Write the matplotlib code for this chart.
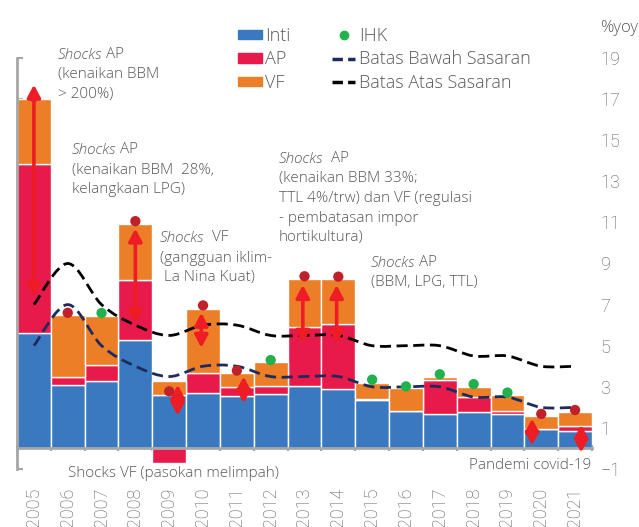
import numpy as np
import matplotlib.pyplot as plt
from matplotlib.path import Path
from matplotlib.patches import PathPatch, Patch
from matplotlib.lines import Line2D

# data
tahun = ["2005", "2006", "2007", "2008", "2009", "2010", "2011", "2012", "2013",
         "2014", "2015", "2016", "2017", "2018", "2019", "2020", "2021"]
inti = np.array([5.6, 3.1, 3.3, 5.3, 2.6, 2.7, 2.55, 2.65, 3.05, 2.9, 2.35, 1.8, 1.7, 1.75, 1.7, 0.93, 0.85])
ap = np.array([8.25, 0.4, 0.75, 2.9, -0.7, 0.95, 0.45, 0.4, 2.85, 3.15, 0.05, 0.02, 1.65, 0.75, 0.1, 0.02, 0.25])
vf = np.array([3.15, 3.0, 2.4, 2.7, 0.7, 3.15, 0.65, 1.15, 2.35, 2.2, 0.8, 1.1, 0.15, 0.5, 0.8, 0.65, 0.65])
ihk = np.array([17.11, 6.6, 6.59, 11.06, 2.78, 6.96, 3.79, 4.3, 8.38, 8.36, 3.35, 3.02, 3.61, 3.13, 2.72, 1.68, 1.87])
batas_bawah = np.array([5, 7, 5, 4, 3.5, 4, 4, 3.5, 3.5, 3.5, 3, 3, 3, 2.5, 2.5, 2, 2])
batas_atas = np.array([7, 9, 7, 6, 5.5, 6, 6, 5.5, 5.5, 5.5, 5, 5, 5, 4.5, 4.5, 4, 4])

# panah shocks: tahun ke-, geser, ujung atas, ujung bawah
panah_idx = [0, 3, 4, 5, 6, 8, 9, 15, 16]
panah_geser = [0, 0, 0.25, -0.05, 0.2, -0.05, -0.05, -0.27, 0.18]
panah_atas = [17.7, 10.7, 3.1, 6.6, 3.5, 7.95, 7.95, 1.45, 1.15]
panah_bawah = [7.4, 6.1, 1.6, 4.9, 2.2, 5.1, 5.1, 0.15, -0.2]

biru = "#3a78c0"
merah_ap = "#e8194b"
oranye = "#ec7e27"
hijau = "#22b14c"
merah_tua = "#c0202a"
merah = "#ee1c25"
navy = "#1f2a5c"
abu = "#a6a6a6"
teks = "#595959"

plt.rcParams["font.family"] = ["Open Sans", "DejaVu Sans"]
plt.rcParams["font.weight"] = "light"
font_angka = ["Roboto", "DejaVu Sans"]

W, H = 639, 527
def fx(v):
    return v / W
def fy(v):
    return 1 - v / H

fig = plt.figure(figsize=(6.39, 5.27), dpi=100)
ax = fig.add_axes([fx(17), fy(469), 575 / W, 411 / H])

x = np.arange(len(tahun))
ap_pos = np.clip(ap, 0, None)
ax.bar(x, inti, width=1, color=biru, edgecolor="white", lw=1, zorder=2)
ax.bar(x, ap, bottom=np.where(ap > 0, inti, 0), width=1, color=merah_ap, edgecolor="white", lw=1, zorder=2)
ax.bar(x, vf, bottom=inti + ap_pos, width=1, color=oranye, edgecolor="white", lw=1, zorder=2)


def kurva_halus(xs, ys):
    pts = np.column_stack([xs, ys]).astype(float)
    verts = [pts[0]]
    codes = [Path.MOVETO]
    n = len(pts)
    for i in range(n - 1):
        p0 = pts[max(i - 1, 0)]
        p1 = pts[i]
        p2 = pts[i + 1]
        p3 = pts[min(i + 2, n - 1)]
        verts += [p1 + (p2 - p0) / 6, p2 - (p3 - p1) / 6, p2]
        codes += [Path.CURVE4] * 3
    return Path(verts, codes)


ax.add_patch(PathPatch(kurva_halus(x, batas_bawah), fill=False, edgecolor=navy, lw=2,
                       linestyle=(0, (4, 2)), zorder=3))
ax.add_patch(PathPatch(kurva_halus(x, batas_atas), fill=False, edgecolor="black", lw=2,
                       linestyle=(0, (4, 2)), zorder=3))

dalam = (ihk >= batas_bawah) & (ihk <= batas_atas)
ax.scatter(x, ihk, s=55, c=np.where(dalam, hijau, merah_tua), zorder=4, linewidths=0)

for i, g, a, b in zip(panah_idx, panah_geser, panah_atas, panah_bawah):
    ax.annotate("", xy=(i + g, a), xytext=(i + g, b),
                arrowprops=dict(arrowstyle="<|-|>,head_length=0.75,head_width=0.4", color=merah,
                                lw=2.6, mutation_scale=10, shrinkA=0, shrinkB=0), zorder=5)

ax.set_xlim(-0.5, 16.5)
ax.set_ylim(-1, 19)
for s in ["top", "right"]:
    ax.spines[s].set_visible(False)
ax.spines["left"].set_color(abu)
ax.spines["left"].set_linewidth(2)
ax.spines["bottom"].set_color(abu)
ax.spines["bottom"].set_linewidth(2)
ax.spines["bottom"].set_position(("data", 0))

ax.set_yticks([-1, 1, 3, 5, 7, 9, 11, 13, 15, 17, 19])
ax.tick_params(axis="y", direction="in", length=4, width=1.5, color=abu, labelleft=False,
               labelright=True, right=False, pad=6, labelsize=13, labelcolor=teks)
ax.set_xticks(x, tahun, rotation=90)
ax.set_xticks(np.arange(-0.5, 17), minor=True)
ax.tick_params(axis="x", which="major", length=0, pad=28, labelsize=13, labelcolor=teks)
ax.tick_params(axis="x", which="minor", direction="inout", length=5, width=1.5, color=abu)
for lab in ax.get_xticklabels() + ax.get_yticklabels():
    lab.set_family(font_angka)

fig.text(fx(600), fy(32), "%yoy", color=teks, fontsize=12)

# legenda
handles = [Patch(color=biru), Patch(color=merah_ap), Patch(color=oranye),
           Line2D([], [], marker="o", color=hijau, ls="none", markersize=6),
           Line2D([], [], color=navy, lw=2.5, ls=(0, (3, 1.5))),
           Line2D([], [], color="black", lw=2.5, ls=(0, (3, 1.5)))]
labels = ["Inti", "AP", "VF", "IHK", "Batas Bawah Sasaran", "Batas Atas Sasaran"]
fig.legend(handles, labels, ncol=2, loc="upper left", bbox_to_anchor=(fx(229), fy(18)),
           frameon=False, fontsize=13, handlelength=1.3, handleheight=0.45, handletextpad=0.2,
           labelspacing=0.3, columnspacing=2.3, borderpad=0, labelcolor=teks)

# anotasi
def anotasi(x0, y0, sisa, baris, jarak=19.5):
    t = fig.text(fx(x0), fy(y0), "Shocks", style="italic", color=teks, fontsize=11)
    ax.annotate(sisa, xy=(1, 0), xycoords=t, va="bottom", color=teks, fontsize=11)
    for k, b in enumerate(baris):
        fig.text(fx(x0), fy(y0 + jarak * (k + 1)), b, color=teks, fontsize=11)


anotasi(58, 59, " AP", ["(kenaikan BBM", "> 200%)"])
anotasi(72, 154, " AP", ["(kenaikan BBM  28%,", "kelangkaan LPG)"])
anotasi(160, 242, "  VF", ["(gangguan iklim-", " La Nina Kuat)"])
anotasi(279, 163, "  AP", ["(kenaikan BBM 33%;", "TTL 4%/trw) dan VF (regulasi",
                           "- pembatasan impor", "hortikultura)"])
anotasi(371, 267, " AP", ["(BBM, LPG, TTL)"])
fig.text(fx(68), fy(477), "Shocks VF (pasokan melimpah)", color=teks, fontsize=11)
fig.text(fx(591), fy(469), "Pandemi covid-19", color=teks, fontsize=11, ha="right")

fig.savefig("out.png", dpi=100)
